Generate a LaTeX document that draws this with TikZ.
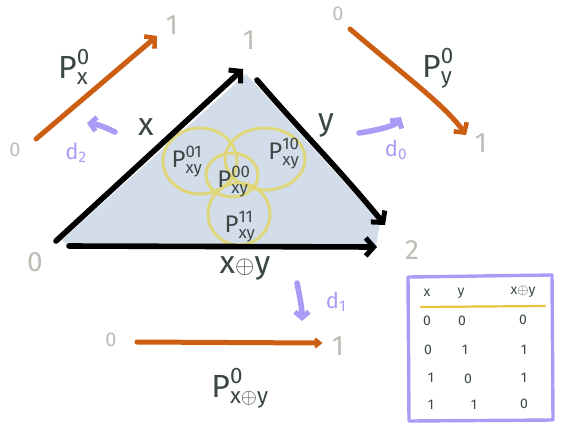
\documentclass[tikz,border=0pt]{standalone}
\usepackage{fontspec}
\usepackage{amsmath}
\setmainfont{Fira Sans}
\usetikzlibrary{arrows.meta}
\definecolor{ink}{HTML}{3B4745}
\definecolor{faint}{HTML}{BDBDB5}
\definecolor{orangeline}{HTML}{CC5E14}
\definecolor{purp}{HTML}{A99CF7}
\definecolor{venncol}{HTML}{E0D77A}
\definecolor{blueshade}{HTML}{D3DDEA}
\definecolor{rulecol}{HTML}{E8C23A}
\tikzset{
  edge/.style={line width=5.6pt, line cap=round, line join=round, black,
    -{Straight Barb[length=8pt,width=18pt,line width=5pt]}},
  orangearrow/.style={line width=5pt, line cap=round, orangeline,
    -{Straight Barb[length=7pt,width=16pt,line width=4.6pt]}},
  orangeblob/.style={line width=5pt, line cap=round, orangeline,
    -{Triangle[round,length=8pt,width=12pt]}},
  purparrow/.style={line width=5.6pt, line cap=round, purp,
    -{Straight Barb[length=6pt,width=14pt,line width=5pt]}},
  venn/.style={line width=3pt, venncol},
  endlabel/.style={text=faint, font=\fontsize{28}{28}\selectfont, inner sep=0pt},
  smallend/.style={text=faint, font=\fontsize{20}{20}\selectfont, inner sep=0pt},
  plabel/.style={text=ink, font=\fontsize{32}{32}\selectfont, inner sep=0pt},
  vlabel/.style={text=ink, font=\fontsize{24}{24}\selectfont, inner sep=0pt},
  edgelabel/.style={text=ink, font=\fontsize{32}{32}\selectfont, inner sep=0pt},
  dlabel/.style={text=purp, font=\fontsize{22}{22}\selectfont, inner sep=0pt},
  cell/.style={text=ink, font=\fontsize{14}{14}\selectfont, inner sep=0pt},
}
\begin{document}
\begin{tikzpicture}[x=1pt,y=-1pt]
\useasboundingbox (0,0) rectangle (561,424);

% triangle vertices
\coordinate (A) at (56,241);
\coordinate (B) at (243,69);
\coordinate (B2) at (257,80);
\coordinate (C) at (385,225);
\coordinate (E) at (69,246);
\coordinate (D) at (377,247);

\fill[blueshade] (62,240) -- (246,74) -- (380,222) -- (376,246) -- (68,246) -- cycle;

% venn ellipses
\draw[venn] (200,161) ellipse [x radius=37pt, y radius=33pt];
\draw[venn] (265,159) ellipse [x radius=40pt, y radius=31pt];
\draw[venn] (232,175) ellipse [x radius=26pt, y radius=22pt];
\draw[venn] (239,214) ellipse [x radius=31pt, y radius=31pt];

\node[vlabel] (p01) at (187,162) {$\text{P}^{\text{01}}_{\text{xy}}$};
\node[vlabel] (p00) at (234,182) {$\text{P}^{\text{00}}_{\text{xy}}$};
\node[vlabel] (p10) at (284,154) {$\text{P}^{\text{10}}_{\text{xy}}$};
\node[vlabel] (p11) at (240,227) {$\text{P}^{\text{11}}_{\text{xy}}$};

% triangle edges
\draw[edge] (A) -- (B);
\draw[edge] (B2) .. controls (300,130) and (340,170) .. (C);
\draw[edge] (E) -- (D);

% vertex labels
\node[endlabel] (v0) at (35,262) {0};
\node[endlabel] (v1) at (249,40) {1};
\node[endlabel] (v2) at (412,250) {2};

% edge labels
\node[edgelabel] (lx) at (146,127) {x};
\node[edgelabel] (ly) at (326,125) {y};
\node[edgelabel] (lxy) at (245,268) {x$\oplus$y};

% orange maps
\node[smallend] (a0) at (15,150) {0};
\node[endlabel] (a1) at (172,25) {1};
\draw[orangearrow] (36,139) -- (157,36);
\node[plabel] (px) at (74,67) {$\text{P}^{\text{0}}_{\text{x}}$};

\node[smallend] (b0) at (338,14) {0};
\node[endlabel] (b1) at (481,143) {1};
\draw[orangearrow] (350,29) .. controls (400,72) and (445,105) .. (466,135);
\node[plabel] (py) at (438,68) {$\text{P}^{\text{0}}_{\text{y}}$};

\node[smallend] (c0) at (111,340) {0};
\node[endlabel] (c1) at (338,346) {1};
\draw[orangeblob] (137,342) -- (322,343);
\node[plabel] (pxy) at (240,388) {$\text{P}^{\text{0}}_{\text{x}\oplus\text{y}}$};

% purple arrows
\draw[purparrow] (115,132) .. controls (103,126) and (95,124) .. (87,123);
\node[dlabel] (d2) at (76,153) {d$_{\text{2}}$};
\draw[purparrow] (359,133) .. controls (378,130) and (395,126) .. (401,117);
\node[dlabel] (d0) at (396,150) {d$_{\text{0}}$};
\draw[purparrow] (297,283) .. controls (300,298) and (302,308) .. (302,321);
\node[dlabel] (d1) at (336,302) {d$_{\text{1}}$};

% table
\draw[purp, line width=3.4pt, line cap=round, line join=round]
  (408,277) -- (552,275) -- (553,420) -- (409,421) -- cycle;
\node[cell] (hx) at (427,293) {x};
\node[cell] (hy) at (461,293) {y};
\node[cell] (hxy) at (523,292) {x$\oplus$y};
\draw[rulecol, line width=2.2pt, line cap=round] (421,307) -- (545,306);
\node[cell] (r1a) at (427,321) {0};
\node[cell] (r1b) at (462,321) {0};
\node[cell] (r1c) at (523,320) {0};
\node[cell] (r2a) at (428,350) {0};
\node[cell] (r2b) at (465,350) {1};
\node[cell] (r2c) at (524,350) {1};
\node[cell] (r3a) at (431,378) {1};
\node[cell] (r3b) at (468,379) {0};
\node[cell] (r3c) at (524,378) {1};
\node[cell] (r4a) at (431,405) {1};
\node[cell] (r4b) at (474,405) {1};
\node[cell] (r4c) at (524,404) {0};
\end{tikzpicture}
\end{document}
